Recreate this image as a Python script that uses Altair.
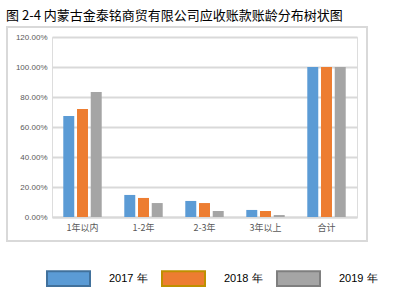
import altair as alt
import pandas as pd

categories = ["1年以内", "1-2年", "2-3年", "3年以上", "合计"]
years = ["2017 年", "2018 年", "2019 年"]
v2017 = [0.673, 0.147, 0.107, 0.047, 1.0]
v2018 = [0.720, 0.127, 0.093, 0.040, 1.0]
v2019 = [0.833, 0.093, 0.040, 0.013, 1.0]
y_ticks = [0, 0.2, 0.4, 0.6, 0.8, 1.0, 1.2]

fills = ["#5B9BD5", "#ED7D31", "#A5A5A5"]
strokes = ["#41719C", "#BF9000", "#7F7F7F"]

rows = []
for yr, vals in zip(years, [v2017, v2018, v2019]):
    for c, v in zip(categories, vals):
        rows.append({"cat": c, "year": yr, "value": v})
df = pd.DataFrame(rows)

color_scale = alt.Scale(domain=years, range=fills)
stroke_scale = alt.Scale(domain=years, range=strokes)

BOX = "M-1,-0.34H1V0.34H-1Z"

def make_legend():
    return alt.Legend(title=None, orient="none", direction="horizontal",
                      legendX=-6, legendY=219, padding=0,
                      symbolType=BOX, symbolSize=1849,
                      symbolStrokeWidth=2, symbolOpacity=1,
                      labelFontSize=11, labelFont="Liberation Sans",
                      labelColor="#000000", labelOffset=18, columnPadding=10)

x_enc = alt.X("cat:N", sort=categories, title=None,
              scale=alt.Scale(paddingInner=0.37, paddingOuter=0.185),
              axis=alt.Axis(labelAngle=0, ticks=False, domain=True, domainColor="#D9D9D9",
                            domainWidth=2, labelFontSize=9, labelColor="#595959",
                            labelFont="Noto Sans CJK SC", labelPadding=6))
y_enc = alt.Y("value:Q", title=None, scale=alt.Scale(domain=[0, 1.2], nice=False),
              axis=alt.Axis(values=y_ticks, format=".2%", ticks=False, domain=False,
                            grid=True, gridColor="#D9D9D9", gridWidth=2,
                            labelFontSize=8, labelColor="#595959",
                            labelFont="Liberation Sans", labelPadding=5))

bars = alt.Chart(df).mark_bar().encode(
    x=x_enc,
    xOffset=alt.XOffset("year:N", sort=years, scale=alt.Scale(paddingInner=0.2)),
    y=y_enc,
    color=alt.Color("year:N", scale=color_scale, legend=make_legend()),
)

legend_layer = alt.Chart(df).transform_filter("false").mark_point(
    shape=BOX, filled=True, strokeWidth=2, opacity=1, size=1849
).encode(
    color=alt.Color("year:N", scale=color_scale, legend=make_legend()),
    stroke=alt.Stroke("year:N", scale=stroke_scale, legend=make_legend()),
)

frame = alt.Chart(pd.DataFrame({"a": [0]})).mark_rect(
    fillOpacity=0, stroke="#D9D9D9", strokeWidth=2
).encode(x=alt.value(-45), x2=alt.value(315), y=alt.value(-10), y2=alt.value(204))

chart = alt.layer(frame, legend_layer, bars).properties(
    width=305, height=180,
    autosize=alt.AutoSizeParams(type="none"),
    padding={"left": 52, "top": 37, "right": 43, "bottom": 78},
    title=alt.TitleParams("图 2-4 内蒙古金泰铭商贸有限公司应收账款账龄分布树状图",
                          anchor="start", fontSize=13, fontWeight="normal",
                          font="Noto Sans CJK SC", color="#000000", dx=0, offset=3),
).configure_view(stroke=None).configure(background="white")

chart.save("out.html", embed_options={"renderer": "svg", "actions": False})
